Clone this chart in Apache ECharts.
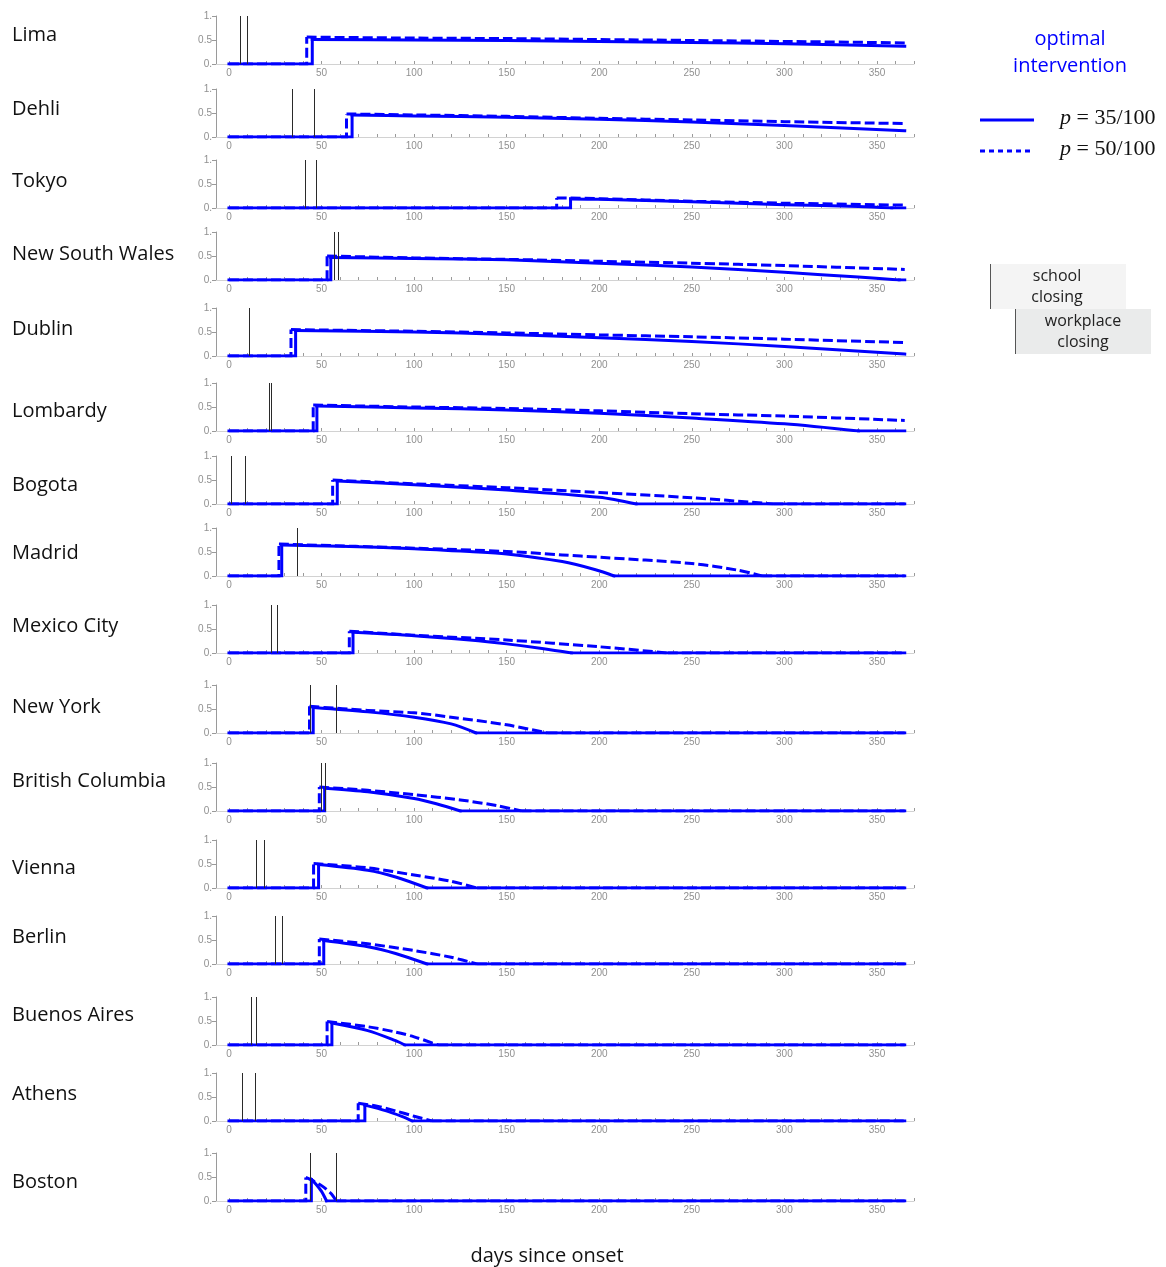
<!DOCTYPE html>
<html>
<head>
<meta charset="utf-8">
<script src="https://cdn.jsdelivr.net/npm/echarts@6/dist/echarts.min.js"></script>
<style>
  html, body { margin: 0; padding: 0; background: #fff; }
  #chart { width: 1166px; height: 1267px; }
</style>
</head>
<body>
<div id="chart"></div>
<script>
// Cities, in panel order (top to bottom)
const cities = ['Lima', 'Dehli', 'Tokyo', 'New South Wales', 'Dublin', 'Lombardy', 'Bogota', 'Madrid',
  'Mexico City', 'New York', 'British Columbia', 'Vienna', 'Berlin', 'Buenos Aires', 'Athens', 'Boston'];

// Day (since onset) of the actual school and workplace closings
const schoolClosing    = [6, 34, 41, 57, 11, 22, 1, 37, 23, 44, 50, 15, 25, 12, 7, 44];
const workplaceClosing = [10, 46, 47, 59, 11, 23, 9, 37, 26, 58, 52, 19, 29, 15, 14, 58];

// Optimal intervention level, p = 35/100: [day, level] from the switch-on day until it ends
const interventionP35 = [
  [[45, 0.51], [100, 0.50], [150, 0.49], [200, 0.47], [250, 0.45], [300, 0.42], [365, 0.37]],
  [[66.5, 0.46], [100, 0.44], [150, 0.41], [200, 0.37], [250, 0.31], [300, 0.24], [365, 0.13]],
  [[184.5, 0.19], [200, 0.18], [250, 0.13], [300, 0.07], [340, 0.03], [358, 0]],
  [[55, 0.47], [100, 0.45], [150, 0.42], [200, 0.35], [250, 0.27], [300, 0.16], [340, 0.06], [362, 0]],
  [[36, 0.53], [100, 0.50], [150, 0.45], [200, 0.38], [250, 0.30], [300, 0.20], [365, 0.04]],
  [[47.5, 0.52], [100, 0.48], [150, 0.44], [200, 0.37], [250, 0.27], [300, 0.15], [340, 0]],
  [[58.5, 0.48], [100, 0.40], [150, 0.29], [200, 0.14], [220, 0]],
  [[28.5, 0.645], [60, 0.62], [100, 0.57], [130, 0.51], [150, 0.46], [180, 0.30], [198, 0.13], [208, 0]],
  [[67, 0.43], [100, 0.36], [130, 0.27], [150, 0.19], [170, 0.09], [185, 0]],
  [[45.5, 0.53], [75, 0.44], [100, 0.33], [120, 0.19], [133.5, 0]],
  [[51.7, 0.475], [75, 0.40], [100, 0.26], [112, 0.15], [125, 0]],
  [[48.4, 0.49], [75, 0.37], [90, 0.23], [107, 0]],
  [[51.2, 0.49], [75, 0.36], [90, 0.22], [107, 0]],
  [[55.6, 0.46], [75, 0.30], [90, 0.09], [95, 0]],
  [[73.4, 0.33], [85, 0.21], [93, 0.10], [99, 0]],
  [[44.5, 0.45], [47, 0.35], [50, 0.20], [52.7, 0]]
];

// Optimal intervention level, p = 50/100
const interventionP50 = [
  [[42, 0.56], [100, 0.54], [150, 0.53], [200, 0.51], [250, 0.49], [300, 0.47], [365, 0.44]],
  [[63.5, 0.48], [100, 0.46], [150, 0.43], [200, 0.39], [250, 0.355], [300, 0.32], [365, 0.28]],
  [[177, 0.21], [200, 0.195], [250, 0.14], [300, 0.10], [365, 0.06]],
  [[53, 0.50], [100, 0.46], [150, 0.43], [200, 0.39], [250, 0.35], [300, 0.30], [365, 0.22]],
  [[33.5, 0.55], [100, 0.515], [150, 0.48], [200, 0.44], [250, 0.40], [300, 0.35], [365, 0.28]],
  [[45.5, 0.54], [100, 0.50], [150, 0.47], [200, 0.42], [250, 0.36], [300, 0.31], [365, 0.22]],
  [[56, 0.50], [100, 0.42], [150, 0.34], [200, 0.24], [250, 0.13], [294, 0]],
  [[27, 0.665], [100, 0.58], [150, 0.51], [180, 0.44], [200, 0.39], [250, 0.26], [275, 0.12], [288, 0]],
  [[65, 0.455], [100, 0.37], [150, 0.27], [200, 0.13], [237, 0]],
  [[43.5, 0.555], [75, 0.47], [100, 0.42], [120, 0.33], [150, 0.17], [172, 0]],
  [[48.8, 0.50], [75, 0.43], [100, 0.34], [125, 0.23], [145, 0.11], [158, 0]],
  [[45.7, 0.51], [75, 0.42], [100, 0.27], [120, 0.14], [134, 0]],
  [[48.8, 0.52], [75, 0.42], [100, 0.28], [120, 0.14], [134, 0]],
  [[53, 0.49], [75, 0.38], [90, 0.27], [100, 0.17], [113, 0]],
  [[69.8, 0.37], [80, 0.31], [90, 0.21], [100, 0.10], [109.5, 0]],
  [[41.5, 0.49], [45, 0.43], [50, 0.32], [55, 0.16], [58, 0]]
];

// Axis ticks
const dayLabels = [0, 50, 100, 150, 200, 250, 300, 350];
const dayTicks = [0, 10, 20, 30, 40, 50, 60, 70, 80, 90, 100, 110, 120, 130, 140, 150, 160, 170, 180,
  190, 200, 210, 220, 230, 240, 250, 260, 270, 280, 290, 300, 310, 320, 330, 340, 350, 360, 370];
const levelTicks = [0, 0.5, 1];
const lastDay = 365;

// Layout of the panels
const panelTop = [16, 89, 160, 232, 308, 383, 456, 528, 605, 685, 763, 840, 916, 997, 1073, 1153];
const cityLabelY = [35, 109, 181, 254, 329, 411, 485, 553, 626, 707, 781, 868, 937, 1015, 1094, 1182];
const BLUE = '#0000ff';
const SOLID = { color: BLUE, width: 3, cap: 'square', join: 'miter' };
const DASHED = { color: BLUE, width: 3, type: [10, 4], cap: 'butt', join: 'miter' };

// One intervention trajectory drawn as: switch-on step, smooth decay, then zero to year end
function trajectorySeries(pts, i, name, lineStyle, z) {
  const first = pts[0];
  const last = pts[pts.length - 1];
  const common = { name, type: 'line', xAxisIndex: i, yAxisIndex: i, showSymbol: false,
    silent: true, z, lineStyle };
  const out = [
    Object.assign({ data: [[0, 0], [first[0], 0], first] }, common),
    Object.assign({ data: pts, smooth: 0.3 }, common)
  ];
  if (last[1] === 0 && last[0] < lastDay) {
    out.push(Object.assign({ data: [last, [lastDay, 0]] }, common));
  }
  return out;
}

const grid = [], xAxis = [], yAxis = [], series = [], graphic = [];

cities.forEach((city, i) => {
  grid.push({ left: 216, top: panelTop[i], width: 698, height: 48 });
  xAxis.push({
    gridIndex: i, type: 'value', min: -7, max: 370,
    axisLine: { onZero: false, lineStyle: { color: '#d2d2d2', width: 1 } },
    axisTick: { customValues: dayTicks, inside: true, length: 3, lineStyle: { color: '#9a9a9a' } },
    axisLabel: { customValues: dayLabels, color: '#909090', fontSize: 10, margin: 4,
      fontFamily: 'Liberation Sans' },
    splitLine: { show: false }
  });
  yAxis.push({
    gridIndex: i, type: 'value', min: 0, max: 1,
    axisLine: { show: true, onZero: false, lineStyle: { color: '#9a9a9a', width: 1 } },
    axisTick: { show: true, customValues: levelTicks, length: 4, lineStyle: { color: '#9a9a9a' } },
    axisLabel: { customValues: levelTicks, color: '#909090', fontSize: 10, margin: 4,
      fontFamily: 'Liberation Sans',
      formatter: v => (v === 0.5 ? '0.5' : Math.round(v) + '.') },
    splitLine: { show: false }
  });

  series.push(...trajectorySeries(interventionP50[i], i, 'p = 50/100', DASHED, 2));
  series.push(...trajectorySeries(interventionP35[i], i, 'p = 35/100', SOLID, 3));
  series.push({
    name: 'closings', type: 'line', xAxisIndex: i, yAxisIndex: i, data: [], z: 4,
    markLine: {
      silent: true, symbol: 'none', animation: false,
      label: { show: false },
      lineStyle: { color: '#2a2a2a', width: 1, type: 'solid' },
      data: [{ xAxis: schoolClosing[i] }, { xAxis: workplaceClosing[i] }]
    }
  });

  graphic.push({
    type: 'text', x: 12, y: cityLabelY[i],
    style: { text: city, font: '20px "Open Sans"', fill: '#111', verticalAlign: 'middle', textVerticalAlign: 'middle' }
  });
});

// Axis title
graphic.push({
  type: 'text', x: 547, y: 1256,
  style: { text: 'days since onset', font: '20px "Open Sans"', fill: '#111', align: 'center',
    textAlign: 'center', verticalAlign: 'middle', textVerticalAlign: 'middle' }
});

// Legend: optimal intervention
const pRich = { i: { font: 'italic 22px "Liberation Serif"', fill: '#111' },
                n: { font: '22px "Liberation Serif"', fill: '#111' } };
graphic.push(
  { type: 'text', x: 1070, y: 39,
    style: { text: 'optimal', font: '20px "Open Sans"', fill: BLUE, align: 'center', textAlign: 'center',
      verticalAlign: 'middle', textVerticalAlign: 'middle' } },
  { type: 'text', x: 1070, y: 66,
    style: { text: 'intervention', font: '20px "Open Sans"', fill: BLUE, align: 'center', textAlign: 'center',
      verticalAlign: 'middle', textVerticalAlign: 'middle' } },
  { type: 'line', shape: { x1: 980, y1: 120, x2: 1034, y2: 120 },
    style: { stroke: BLUE, lineWidth: 3 } },
  { type: 'line', shape: { x1: 980, y1: 151, x2: 1034, y2: 151 },
    style: { stroke: BLUE, lineWidth: 3, lineDash: [5, 4] } },
  { type: 'text', x: 1060, y: 118,
    style: { rich: pRich, text: '{i|p}{n| = 35/100}', verticalAlign: 'middle', textVerticalAlign: 'middle' } },
  { type: 'text', x: 1060, y: 149,
    style: { rich: pRich, text: '{i|p}{n| = 50/100}', verticalAlign: 'middle', textVerticalAlign: 'middle' } }
);

// Legend: closings
graphic.push(
  { type: 'rect', shape: { x: 990, y: 264, width: 136, height: 45 }, style: { fill: '#f4f4f4' } },
  { type: 'line', shape: { x1: 990.5, y1: 264, x2: 990.5, y2: 309 }, style: { stroke: '#555', lineWidth: 1 } },
  { type: 'text', x: 1057, y: 276, style: { text: 'school', font: '16px "Open Sans"', fill: '#222',
      align: 'center', textAlign: 'center', verticalAlign: 'middle', textVerticalAlign: 'middle' } },
  { type: 'text', x: 1057, y: 297, style: { text: 'closing', font: '16px "Open Sans"', fill: '#222',
      align: 'center', textAlign: 'center', verticalAlign: 'middle', textVerticalAlign: 'middle' } },
  { type: 'rect', shape: { x: 1015, y: 309, width: 136, height: 45 }, style: { fill: '#eaebeb' } },
  { type: 'line', shape: { x1: 1015.5, y1: 309, x2: 1015.5, y2: 354 }, style: { stroke: '#555', lineWidth: 1 } },
  { type: 'text', x: 1083, y: 321, style: { text: 'workplace', font: '16px "Open Sans"', fill: '#222',
      align: 'center', textAlign: 'center', verticalAlign: 'middle', textVerticalAlign: 'middle' } },
  { type: 'text', x: 1083, y: 342, style: { text: 'closing', font: '16px "Open Sans"', fill: '#222',
      align: 'center', textAlign: 'center', verticalAlign: 'middle', textVerticalAlign: 'middle' } }
);

const chart = echarts.init(document.getElementById('chart'), null, { renderer: 'canvas' });
chart.setOption({
  backgroundColor: '#fff',
  animation: false,
  grid, xAxis, yAxis, series, graphic
});
</script>
</body>
</html>
